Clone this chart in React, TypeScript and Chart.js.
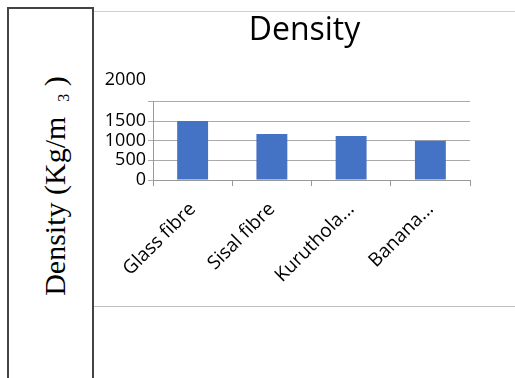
import React, { useEffect, useRef } from "react";
import { Chart, registerables } from "chart.js";

Chart.register(...registerables);

const categories = ["Glass fibre", "Sisal fibre", "Kuruthola...", "Banana..."];
const densityValues = [1500, 1170, 1120, 1000];
const yMin = 0;
const yMax = 2000;
const yStep = 500;
const chartTitle = "Density";
const sideLabelMain = "Density (Kg/m";
const sideLabelSup = "3";

const FONT = "'Open Sans', 'Liberation Sans', sans-serif";

const topLabelPlugin = {
  id: "topLabel",
  afterDraw(chart: any) {
    const scale = chart.scales.y;
    const ctx = chart.ctx;
    ctx.save();
    ctx.font = `18px ${FONT}`;
    ctx.fillStyle = "#000";
    ctx.textAlign = "right";
    ctx.textBaseline = "middle";
    ctx.fillText(String(yMax), scale.right - 7, scale.getPixelForValue(yMax) - 22);
    ctx.restore();
  },
};

function App() {
  const ref = useRef<HTMLCanvasElement | null>(null);

  useEffect(() => {
    if (!ref.current) return;
    const chart = new Chart(ref.current, {
      type: "bar",
      data: {
        labels: categories,
        datasets: [
          {
            data: densityValues,
            backgroundColor: "#4472C4",
            borderWidth: 0,
            barPercentage: 0.39,
            categoryPercentage: 1,
          },
        ],
      },
      options: {
        responsive: false,
        animation: false,
        layout: { padding: { left: 0, right: 0, top: 0, bottom: 0 } },
        plugins: {
          legend: { display: false },
          tooltip: { enabled: false },
          title: {
            display: true,
            text: chartTitle,
            color: "#000",
            font: { family: FONT, size: 32, weight: "normal" },
            padding: { top: 0, bottom: 51 },
          },
        },
        scales: {
          x: {
            grid: { offset: true, drawOnChartArea: false, tickLength: 6, color: "#999" },
            border: { color: "#999" },
            ticks: {
              autoSkip: false,
              minRotation: 45,
              maxRotation: 45,
              color: "#000",
              padding: 12,
              font: { family: FONT, size: 19 },
            },
            afterFit: (s: any) => {
              s.height = 126;
            },
          },
          y: {
            min: yMin,
            max: yMax,
            ticks: {
              autoSkip: false,
              stepSize: yStep,
              color: "#000",
              padding: 2,
              font: { family: FONT, size: 18 },
              callback: (v: any) => (Number(v) === yMax ? "" : String(v)),
            },
            grid: { color: "#aaa", tickLength: 5 },
            border: { color: "#999" },
            afterFit: (s: any) => {
              s.width = 59;
            },
          },
          spacer: {
            type: "linear",
            position: "right",
            display: true,
            min: 0,
            max: 1,
            grid: { display: false, drawTicks: false },
            border: { display: false },
            ticks: { display: false },
            afterFit: (s: any) => {
              s.width = 45;
            },
          },
        },
      },
      plugins: [topLabelPlugin],
    });
    return () => chart.destroy();
  }, []);

  const line = (l: number, t: number, w: number, h: number, c: string) => (
    <div style={{ position: "absolute", left: l, top: t, width: w, height: h, background: c }} />
  );

  return (
    <div>
      {line(7, 7, 87, 2, "#444")}
      {line(7, 7, 2, 371, "#444")}
      {line(92, 7, 2, 371, "#444")}
      {line(94, 11, 421, 1, "#cfcfcf")}
      {line(94, 306, 421, 1, "#bdbdbd")}
      <div
        style={{
          position: "absolute",
          left: 55,
          top: 186,
          transform: "translate(-50%, -50%) rotate(-90deg)",
          whiteSpace: "pre",
          fontFamily: "'Liberation Serif', 'DejaVu Serif', serif",
          fontSize: 30,
          lineHeight: "34px",
          color: "#000",
        }}
      >
        {sideLabelMain}
        {"  "}
        <span style={{ fontSize: 16, verticalAlign: "-4px", lineHeight: "16px" }}>{sideLabelSup}</span>
        {" )"}
      </div>
      <canvas
        ref={ref}
        width={421}
        height={294}
        style={{ position: "absolute", left: 94, top: 12, width: 421, height: 294, display: "block" }}
      />
    </div>
  );
}

export default App;
